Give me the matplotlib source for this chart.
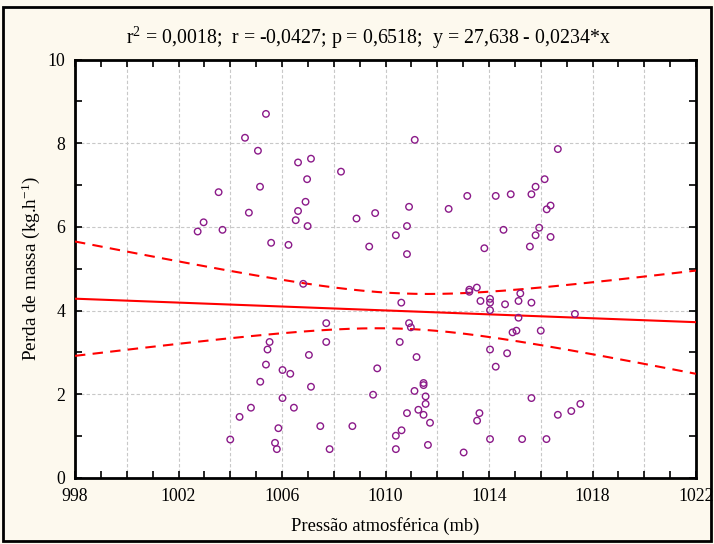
import numpy as np
import matplotlib
matplotlib.use("Agg")
import matplotlib.pyplot as plt
from matplotlib.patches import Rectangle
from matplotlib.ticker import MultipleLocator, FuncFormatter

# ---- data ----
pressure = [
    1005.38, 1004.57, 1005.07, 1005.15, 1003.55, 1004.72, 1002.97, 1002.74, 1003.70, 1005.58,
    1006.62, 1007.12, 1006.97, 1008.28, 1011.13, 1006.91, 1006.62, 1006.53, 1006.99, 1006.25,
    1008.88, 1009.60, 1009.37, 1010.91, 1010.83, 1010.40, 1010.83, 1012.44, 1013.16, 1016.66,
    1016.15, 1015.80, 1014.26, 1014.84, 1015.64, 1016.38, 1016.23, 1014.56, 1015.94, 1015.80,
    1016.38, 1013.82, 1015.58,
    1005.52, 1005.44, 1005.38, 1005.16, 1004.80, 1004.36, 1004.00, 1005.86, 1005.73, 1005.80,
    1006.82, 1010.61, 1010.91, 1010.98, 1007.71, 1007.71, 1007.04, 1006.02, 1006.32, 1009.68,
    1007.12, 1006.02, 1006.46, 1009.52, 1010.55, 1011.20, 1011.47, 1011.47, 1011.12, 1011.55,
    1011.55, 1011.27, 1010.83, 1011.47, 1011.72, 1007.48, 1008.72, 1007.84, 1010.40, 1010.62,
    1010.40, 1011.64, 1013.02, 1013.24, 1013.24, 1013.53, 1013.67, 1013.63, 1013.54, 1014.04,
    1014.04, 1014.04, 1014.62, 1015.21, 1015.14, 1015.64, 1015.14, 1014.91, 1015.06, 1016.00,
    1017.32, 1014.04, 1014.70, 1014.26, 1015.64, 1016.66, 1017.18, 1017.53, 1014.04, 1015.28,
    1016.22,
]
mass_loss = [
    8.70, 8.13, 7.82, 6.96, 6.83, 6.34, 6.11, 5.89, 5.93, 5.62,
    7.54, 7.63, 7.14, 7.32, 8.08, 6.60, 6.38, 6.16, 6.02, 5.57,
    6.20, 6.33, 5.53, 6.48, 6.02, 5.80, 5.35, 6.43, 6.74, 7.86,
    7.14, 6.96, 6.74, 6.78, 6.78, 6.51, 6.42, 5.93, 5.98, 5.80,
    5.76, 5.49, 5.53,
    3.25, 3.07, 2.71, 2.30, 1.68, 1.46, 0.92, 1.19, 0.84, 0.69,
    4.64, 4.19, 3.70, 3.60, 3.70, 3.25, 2.94, 2.58, 2.49, 2.62,
    2.18, 1.91, 1.68, 1.99, 3.25, 2.89, 2.27, 2.22, 2.08, 1.95,
    1.77, 1.63, 1.55, 1.51, 1.32, 1.24, 1.24, 0.69, 1.01, 1.14,
    0.69, 0.79, 0.61, 4.50, 4.45, 4.55, 4.23, 1.55, 1.37, 4.28,
    4.19, 4.01, 4.15, 4.41, 4.23, 4.19, 3.83, 3.48, 3.52, 3.52,
    3.92, 3.07, 2.98, 2.66, 1.91, 1.51, 1.60, 1.77, 0.93, 0.93,
    0.93,
]
intercept = 27.638
slope = -0.0234
stats_text = r"r$^2$ = 0,0018;  r = -0,0427; p = 0,6518;  y = 27,638 - 0,0234*x"
x_label = "Pressão atmosférica (mb)"
y_label = r"Perda de massa (kg.h$^{-1}$)"

x = np.array(pressure)
y = np.array(mass_loss)

plt.rcParams['font.family'] = ['Liberation Serif', 'DejaVu Serif']
plt.rcParams['mathtext.fontset'] = 'custom'
plt.rcParams['mathtext.rm'] = 'Liberation Serif'
plt.rcParams['mathtext.it'] = 'Liberation Serif:italic'

fig = plt.figure(figsize=(7.14, 5.44), dpi=100, facecolor='#FDF9EE')
ax = fig.add_axes([75/714, 1-478/544, (696-75)/714, (478-59.5)/544])
ax.set_facecolor('white')

# regression line and 95% confidence band
xs = np.linspace(998, 1022, 200)
yfit = intercept + slope * xs
n = len(x)
resid = y - (intercept + slope * x)
s = np.sqrt(np.sum(resid**2) / (n - 2))
sxx = np.sum((x - x.mean())**2)
tval = 1.981
half = tval * s * np.sqrt(1.0/n + (xs - x.mean())**2 / sxx)

ax.plot(xs, yfit, color='#FF0000', lw=1.5, zorder=3)
ax.plot(xs, yfit + half, color='#FF0000', lw=1.5, ls=(0, (5, 3.5)), zorder=3)
ax.plot(xs, yfit - half, color='#FF0000', lw=1.5, ls=(0, (5, 3.5)), zorder=3)

ax.scatter(x, y, s=22, facecolors='none', edgecolors='#8B1A89', linewidths=1.0, zorder=4)

ax.set_xlim(998, 1022)
ax.set_ylim(0, 10)
ax.xaxis.set_major_locator(MultipleLocator(2))
ax.xaxis.set_minor_locator(MultipleLocator(1))
ax.yaxis.set_major_locator(MultipleLocator(2))
ax.yaxis.set_minor_locator(MultipleLocator(1))
ax.xaxis.set_major_formatter(FuncFormatter(lambda v, p: f"{int(round(v))}" if int(round(v - 998)) % 4 == 0 else ""))
ax.yaxis.set_major_formatter(FuncFormatter(lambda v, p: f"{int(round(v))}"))
ax.grid(True, which='major', color='#C8C8C8', ls=(0, (3, 2)), lw=0.8)
ax.set_axisbelow(True)
ax.tick_params(which='both', direction='in', top=True, right=True, width=1.2, colors='black',
               labelsize=12.8, pad=7)
ax.tick_params(which='major', length=5)
ax.tick_params(which='minor', length=5)
for sp in ax.spines.values():
    sp.set_linewidth(2.0)

ax.set_xlabel(x_label, fontsize=13.3, labelpad=9)
ax.set_ylabel(y_label, fontsize=13.8, labelpad=4)

fig.text(368/714, 1-38/544, stats_text, ha='center', va='center', fontsize=14.3)

fig.patches.append(Rectangle((3/714, 3/544), 708/714, 1-10/544, transform=fig.transFigure,
                             fill=False, edgecolor='black', lw=2.0))

fig.savefig('out.png', dpi=100, facecolor=fig.get_facecolor())
